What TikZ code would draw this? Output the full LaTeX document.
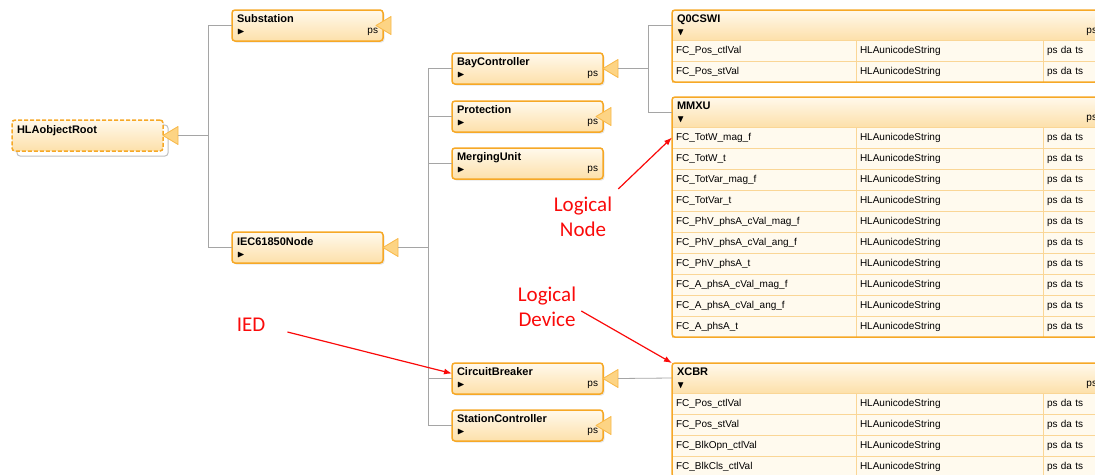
\documentclass[tikz,border=0pt]{standalone}
\usepackage{amsmath,amssymb}
\usepackage{fontspec}
\setmainfont{Liberation Sans}
\newfontfamily\notefont{Carlito}
\usepackage{tikz}
\usetikzlibrary{arrows,arrows.meta,chains,positioning,shadows}
\definecolor{boxedge}{RGB}{246,168,38}
\definecolor{boxtop}{RGB}{255,249,236}
\definecolor{boxbot}{RGB}{253,224,170}
\definecolor{triedge}{RGB}{248,184,72}
\definecolor{trifill}{RGB}{253,212,132}
\definecolor{rowfill}{RGB}{255,250,238}
\definecolor{rowline}{RGB}{250,214,150}
\definecolor{wiregray}{RGB}{165,165,165}
\definecolor{notered}{RGB}{250,10,10}

\begin{document}
\begin{tikzpicture}[x=1pt, y=-1pt,
node distance=0pt,
    cls/.style = {rectangle, rounded corners=3pt, draw=boxedge, line width=1.5pt,% class boxes of the tree
                  top color=boxtop, bottom color=boxbot,
                  text width=141pt, minimum height=31pt, inner xsep=5pt, inner ysep=0pt,
                  outer sep=0pt, anchor=north west, font=\fontsize{11}{13}\selectfont,
                  drop shadow={shadow xshift=1.5pt, shadow yshift=-1.5pt, opacity=.2}},
   head/.style = {rectangle, draw=rowline, top color=boxtop, bottom color=boxbot,% heads of the tables
                  text width=420pt, minimum height=30pt, inner xsep=5pt, inner ysep=0pt,
                  outer sep=0pt, anchor=north west, font=\fontsize{11}{13}\selectfont},
   cell/.style = {rectangle, draw=rowline, fill=rowfill,% cells of a table row (chain)
                  text width=#1, minimum height=21pt, inner xsep=4pt, inner ysep=0pt,
                  outer sep=0pt, font=\fontsize{10}{12}\selectfont, on chain},
tblframe/.style = {draw=boxedge, line width=1.5pt, rounded corners=3pt},
    tri/.style = {draw=triedge, fill=trifill, line width=.8pt, line join=round},
   wire/.style = {draw=wiregray, line width=.8pt},
   note/.style = {text=notered, font=\notefont\fontsize{21}{25}\selectfont, align=center, inner sep=0pt},
pointer/.style = {draw=notered, line width=1.2pt, -{Latex[length=8pt,width=6pt]}},
                        ]
\clip (0,0) rectangle (1095,474);
% class tree
\node[cls, dashed, dash pattern=on 4pt off 2pt,
      drop shadow={shadow xshift=5pt, shadow yshift=-5pt, fill=white, draw=black!25, solid, line width=1pt, opacity=1}]
      (root) at (12,120) {\textbf{HLAobjectRoot}\\[-2pt]\mbox{}};
\node[cls] (sub) at (232,10) {\textbf{Substation}\\[-2pt]\smash{\raisebox{-1pt}{\fontsize{10}{10}\selectfont$\blacktriangleright$}}\hfill{\fontsize{10}{12}\selectfont ps}};
\node[cls] (iec) at (232,232) {\textbf{IEC61850Node}\\[-2pt]\smash{\raisebox{-1pt}{\fontsize{10}{10}\selectfont$\blacktriangleright$}}\hfill\mbox{}};
\node[cls] (bay) at (452,53) {\textbf{BayController}\\[-2pt]\smash{\raisebox{-1pt}{\fontsize{10}{10}\selectfont$\blacktriangleright$}}\hfill{\fontsize{10}{12}\selectfont ps}};
\node[cls, below=17pt of bay] (prot) {\textbf{Protection}\\[-2pt]\smash{\raisebox{-1pt}{\fontsize{10}{10}\selectfont$\blacktriangleright$}}\hfill{\fontsize{10}{12}\selectfont ps}};
\node[cls, below=16pt of prot] (merge) {\textbf{MergingUnit}\\[-2pt]\smash{\raisebox{-1pt}{\fontsize{10}{10}\selectfont$\blacktriangleright$}}\hfill{\fontsize{10}{12}\selectfont ps}};
\node[cls] (cb) at (452,363) {\textbf{CircuitBreaker}\\[-2pt]\smash{\raisebox{-1pt}{\fontsize{10}{10}\selectfont$\blacktriangleright$}}\hfill{\fontsize{10}{12}\selectfont ps}};
\node[cls, below=16pt of cb] (stc) {\textbf{StationController}\\[-2pt]\smash{\raisebox{-1pt}{\fontsize{10}{10}\selectfont$\blacktriangleright$}}\hfill{\fontsize{10}{12}\selectfont ps}};
% logical node tables
\node[head] (q0) at (672,10) {\textbf{Q0CSWI}\\[-2pt]\smash{\raisebox{-2pt}{\fontsize{10}{10}\selectfont$\blacktriangledown$}}\hfill{\fontsize{10}{12}\selectfont ps}};
\foreach \fc [count=\r] in {FC\_Pos\_ctlVal, FC\_Pos\_stVal}{
  \begin{scope}[start chain=going right]
    \node[cell=176pt, at={(q0.south west)}, anchor=north west, yshift=-21*(\r-1)] (Q\r-1) {\fc};
    \node[cell=179pt] (Q\r-2) {HLAunicodeString};
    \node[cell=47pt] (Q\r-3) {ps da ts};
  \end{scope}
}
\draw[tblframe] (q0.north west) rectangle (Q2-3.south east);
\node[head] (mmxu) at (672,97) {\textbf{MMXU}\\[-2pt]\smash{\raisebox{-2pt}{\fontsize{10}{10}\selectfont$\blacktriangledown$}}\hfill{\fontsize{10}{12}\selectfont ps}};
\foreach \fc [count=\r] in {FC\_TotW\_mag\_f, FC\_TotW\_t, FC\_TotVar\_mag\_f, FC\_TotVar\_t,
    FC\_PhV\_phsA\_cVal\_mag\_f, FC\_PhV\_phsA\_cVal\_ang\_f, FC\_PhV\_phsA\_t,
    FC\_A\_phsA\_cVal\_mag\_f, FC\_A\_phsA\_cVal\_ang\_f, FC\_A\_phsA\_t}{
  \begin{scope}[start chain=going right]
    \node[cell=176pt, at={(mmxu.south west)}, anchor=north west, yshift=-21*(\r-1)] (M\r-1) {\fc};
    \node[cell=179pt] (M\r-2) {HLAunicodeString};
    \node[cell=47pt] (M\r-3) {ps da ts};
  \end{scope}
}
\draw[tblframe] (mmxu.north west) rectangle (M10-3.south east);
\node[head] (xcbr) at (672,363) {\textbf{XCBR}\\[-2pt]\smash{\raisebox{-2pt}{\fontsize{10}{10}\selectfont$\blacktriangledown$}}\hfill{\fontsize{10}{12}\selectfont ps}};
\foreach \fc [count=\r] in {FC\_Pos\_ctlVal, FC\_Pos\_stVal, FC\_BlkOpn\_ctlVal, FC\_BlkCls\_ctlVal}{
  \begin{scope}[start chain=going right]
    \node[cell=176pt, at={(xcbr.south west)}, anchor=north west, yshift=-21*(\r-1)] (X\r-1) {\fc};
    \node[cell=179pt] (X\r-2) {HLAunicodeString};
    \node[cell=47pt] (X\r-3) {ps da ts};
  \end{scope}
}
\draw[tblframe] (xcbr.north west) rectangle (X4-3.south east);
% generalization heads: outside for classes with children, on the border for the others
\foreach \n in {root,iec,bay,cb}
  \draw[tri] (\n.east) -- ++(15,-9) -- ++(0,9) coordinate (\n-b) -- ++(0,9) -- cycle;
\foreach \n in {sub,prot,stc}
  \draw[tri] ([xshift=-7pt]\n.east) -- ++(15,-9) -- ++(0,18) -- cycle;
% tree lines
\draw[wire] (root-b) -- ++(30,0) coordinate (root-j);
\draw[wire] (sub.west) -| (root-j);
\draw[wire] (iec.west) -| (root-j);
\draw[wire] (iec-b) -- ++(30,0) coordinate (iec-j);
\foreach \n in {bay,prot,merge,cb,stc}
  \draw[wire] (\n.west) -| (iec-j);
\draw[wire] (bay-b) -- ++(30,0) coordinate (bay-j);
\draw[wire] (q0.west) -| (bay-j);
\draw[wire] (mmxu.west) -| (bay-j);
\draw[wire] (cb-b) -- (xcbr.west);
% red notes
\node[note] (ied) at (251,325) {IED};
\node[note] (ln) at (583,217) {Logical\\Node};
\node[note] (ld) at (547,307) {Logical\\Device};
\draw[pointer] ([xshift=22pt,yshift=-7pt]ied.east) -- ([yshift=5pt]cb.west);
\draw[pointer] ([xshift=6pt,yshift=8pt]ln.north east) -- (M1-1.west);
\draw[pointer] ([xshift=5pt,yshift=-4pt]ld.east) -- (xcbr.north west);
\end{tikzpicture}
\end{document}
